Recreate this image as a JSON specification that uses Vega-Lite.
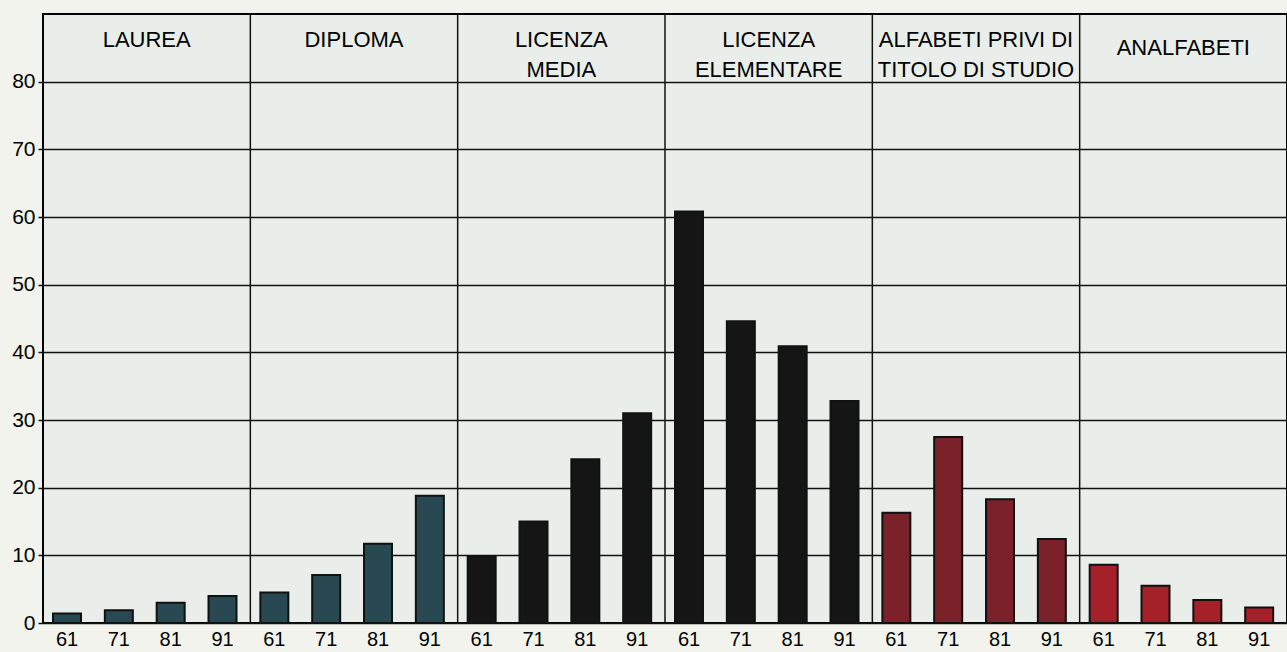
{
  "$schema": "https://vega.github.io/schema/vega-lite/v6.json",
  "width": 1244,
  "height": 609,
  "autosize": {"type": "none"},
  "padding": {"left": 43, "top": 14, "right": 0, "bottom": 29},
  "background": "#f2f3ec",
  "config": {
    "view": {"stroke": "#000000", "strokeWidth": 2, "fill": "#e9eeeb"},
    "font": "Liberation Sans",
    "text": {"font": "Liberation Sans"}
  },
  "datasets": {
    "bars": [
      {"group": "LAUREA", "year": "61", "value": 1.4},
      {"group": "LAUREA", "year": "71", "value": 1.9},
      {"group": "LAUREA", "year": "81", "value": 3.0},
      {"group": "LAUREA", "year": "91", "value": 4.0},
      {"group": "DIPLOMA", "year": "61", "value": 4.5},
      {"group": "DIPLOMA", "year": "71", "value": 7.1},
      {"group": "DIPLOMA", "year": "81", "value": 11.7},
      {"group": "DIPLOMA", "year": "91", "value": 18.8},
      {"group": "LICENZA MEDIA", "year": "61", "value": 9.9},
      {"group": "LICENZA MEDIA", "year": "71", "value": 15.0},
      {"group": "LICENZA MEDIA", "year": "81", "value": 24.2},
      {"group": "LICENZA MEDIA", "year": "91", "value": 31.0},
      {"group": "LICENZA ELEMENTARE", "year": "61", "value": 60.8},
      {"group": "LICENZA ELEMENTARE", "year": "71", "value": 44.6},
      {"group": "LICENZA ELEMENTARE", "year": "81", "value": 40.9},
      {"group": "LICENZA ELEMENTARE", "year": "91", "value": 32.8},
      {"group": "ALFABETI PRIVI DI TITOLO DI STUDIO", "year": "61", "value": 16.3},
      {"group": "ALFABETI PRIVI DI TITOLO DI STUDIO", "year": "71", "value": 27.5},
      {"group": "ALFABETI PRIVI DI TITOLO DI STUDIO", "year": "81", "value": 18.3},
      {"group": "ALFABETI PRIVI DI TITOLO DI STUDIO", "year": "91", "value": 12.4},
      {"group": "ANALFABETI", "year": "61", "value": 8.6},
      {"group": "ANALFABETI", "year": "71", "value": 5.5},
      {"group": "ANALFABETI", "year": "81", "value": 3.4},
      {"group": "ANALFABETI", "year": "91", "value": 2.3}
    ],
    "groups": [
      {"group": "LAUREA", "label": "LAUREA"},
      {"group": "DIPLOMA", "label": "DIPLOMA"},
      {"group": "LICENZA MEDIA", "label": "LICENZA\nMEDIA"},
      {"group": "LICENZA ELEMENTARE", "label": "LICENZA\nELEMENTARE"},
      {"group": "ALFABETI PRIVI DI TITOLO DI STUDIO", "label": "ALFABETI PRIVI DI\nTITOLO DI STUDIO"},
      {"group": "ANALFABETI", "label": "ANALFABETI"}
    ]
  },
  "layer": [
    {
      "data": {"name": "bars"},
      "mark": {"type": "bar", "stroke": "#111111", "strokeWidth": 2},
      "encoding": {
        "x": {
          "field": "group", "type": "nominal",
          "scale": {"type": "band", "paddingInner": 0, "paddingOuter": 0,
            "domain": ["LAUREA", "DIPLOMA", "LICENZA MEDIA", "LICENZA ELEMENTARE", "ALFABETI PRIVI DI TITOLO DI STUDIO", "ANALFABETI"]},
          "axis": null
        },
        "xOffset": {
          "field": "year", "type": "nominal",
          "scale": {"type": "band", "domain": ["61", "71", "81", "91"], "paddingInner": 0.46, "paddingOuter": 0.23, "align": 0.42}
        },
        "y": {
          "field": "value", "type": "quantitative",
          "scale": {"domain": [0, 90], "nice": false},
          "axis": {
            "values": [0, 10, 20, 30, 40, 50, 60, 70, 80],
            "title": null,
            "grid": true, "gridColor": "#111111", "gridWidth": 1.5, "gridOpacity": 1,
            "domain": false,
            "ticks": true, "tickColor": "#111111", "tickSize": 5, "tickWidth": 1.5,
            "labelFontSize": 21, "labelColor": "#000000", "labelPadding": 3,
            "labelFont": "Liberation Sans"
          }
        },
        "color": {
          "field": "group", "type": "nominal", "legend": null,
          "scale": {
            "domain": ["LAUREA", "DIPLOMA", "LICENZA MEDIA", "LICENZA ELEMENTARE", "ALFABETI PRIVI DI TITOLO DI STUDIO", "ANALFABETI"],
            "range": ["#284852", "#284852", "#151515", "#151515", "#7b2129", "#a5212a"]
          }
        }
      }
    },
    {
      "data": {"name": "groups"},
      "transform": [{"filter": "datum.group !== 'LAUREA'"}],
      "mark": {"type": "rule", "color": "#111111", "strokeWidth": 1.5},
      "encoding": {
        "x": {"field": "group", "type": "nominal", "bandPosition": 0}
      }
    },
    {
      "data": {"name": "groups"},
      "transform": [{"filter": "datum.group !== 'ANALFABETI'"}],
      "mark": {"type": "text", "lineBreak": "\n", "lineHeight": 30, "baseline": "top", "align": "center", "dy": 16, "fontSize": 22, "color": "#000000"},
      "encoding": {
        "x": {"field": "group", "type": "nominal"},
        "y": {"datum": 90},
        "text": {"field": "label"}
      }
    },
    {
      "data": {"name": "groups"},
      "transform": [{"filter": "datum.group === 'ANALFABETI'"}],
      "mark": {"type": "text", "lineBreak": "\n", "lineHeight": 30, "baseline": "top", "align": "center", "dy": 24, "fontSize": 22, "color": "#000000"},
      "encoding": {
        "x": {"field": "group", "type": "nominal"},
        "y": {"datum": 90},
        "text": {"field": "label"}
      }
    },
    {
      "data": {"name": "bars"},
      "mark": {"type": "text", "baseline": "top", "align": "center", "dy": 7, "fontSize": 20, "color": "#000000"},
      "encoding": {
        "x": {"field": "group", "type": "nominal"},
        "xOffset": {"field": "year", "type": "nominal"},
        "y": {"datum": 0},
        "text": {"field": "year"}
      }
    }
  ]
}
